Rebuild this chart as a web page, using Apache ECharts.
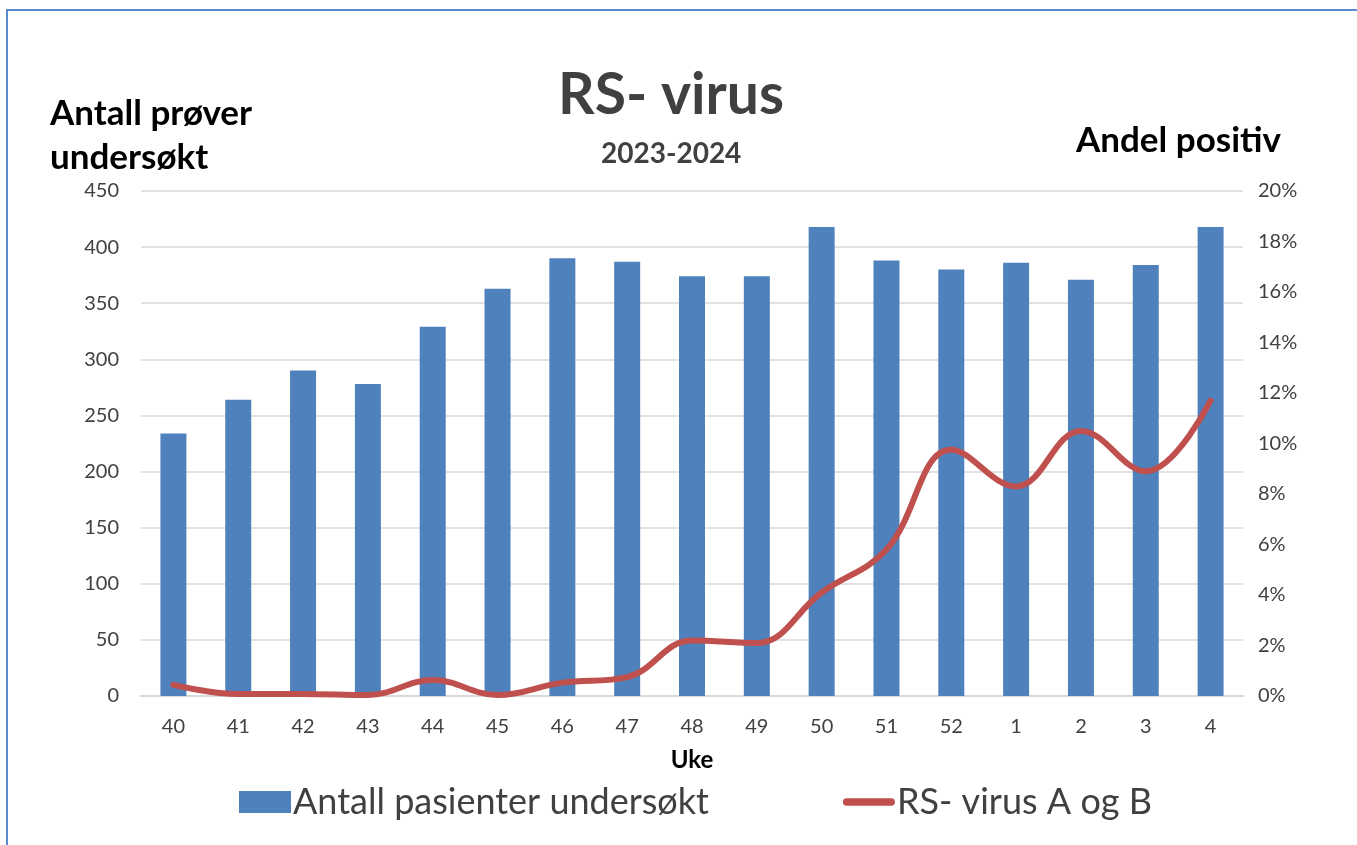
<!DOCTYPE html>
<html>
<head>
<meta charset="utf-8">
<title>RS- virus</title>
<script src="https://cdn.jsdelivr.net/npm/echarts@6/dist/echarts.min.js"></script>
<style>
  html, body { margin: 0; padding: 0; background: #fff; }
  #chart { width: 1357px; height: 845px; }
</style>
</head>
<body>
<div id="chart"></div>
<script>
// uker
var weeks = ["40", "41", "42", "43", "44", "45", "46", "47", "48", "49", "50", "51", "52", "1", "2", "3", "4"];
// antall pasienter undersøkt
var tested = [234, 264, 290, 278, 329, 363, 390, 387, 374, 374, 418, 388, 380, 386, 371, 384, 418];
// andel positive RS-virus A og B (prosent)
var positivePct = [0.44, 0.08, 0.08, 0.04, 0.63, 0.04, 0.53, 0.75, 2.2, 2.1, 4.1, 5.8, 9.75, 8.3, 10.5, 8.9, 11.7];

var font = "Lato, 'Open Sans', sans-serif";
var chart = echarts.init(document.getElementById("chart"));

var option = {
  backgroundColor: "#fff",
  textStyle: { fontFamily: font },
  graphic: [
    {
      type: "rect",
      shape: { x: 7, y: 10, width: 1400, height: 900 },
      style: { fill: "none", stroke: "#5b8bd0", lineWidth: 2 },
      silent: true
    }
  ],
  title: [
    {
      text: "RS- virus",
      left: 553,
      top: 62,
      textStyle: { fontFamily: font, fontSize: 57, fontWeight: "bold", color: "#404040" }
    },
    {
      text: "2023-2024",
      left: 596,
      top: 135,
      textStyle: { fontFamily: font, fontSize: 28, fontWeight: "bold", color: "#404040" }
    },
    {
      text: "Antall prøver\nundersøkt",
      left: 45,
      top: 87,
      textStyle: { fontFamily: font, fontSize: 35, fontWeight: "bold", color: "#000", lineHeight: 44 }
    },
    {
      text: "Andel positiv",
      left: 1071,
      top: 118,
      textStyle: { fontFamily: font, fontSize: 35, fontWeight: "bold", color: "#000" }
    }
  ],
  legend: {
    left: 234,
    top: 779,
    itemWidth: 52,
    itemHeight: 22,
    itemGap: 134,
    textStyle: { fontFamily: font, fontSize: 36, color: "#404040", padding: [0, 0, 0, -3] },
    data: [
      { name: "Antall pasienter undersøkt", icon: "rect" },
      { name: "RS- virus A og B", icon: "path://M4,0 H53 A4,4 0 0 1 53,8 H4 A4,4 0 0 1 4,0 Z" }
    ]
  },
  grid: { left: 141, right: 114, top: 191, bottom: 149 },
  xAxis: {
    type: "category",
    data: weeks,
    name: "Uke",
    nameLocation: "middle",
    nameGap: 52,
    nameTextStyle: { fontFamily: font, fontSize: 24, fontWeight: "bold", color: "#000" },
    axisLine: { lineStyle: { color: "#d9d9d9", width: 2 } },
    axisTick: { show: false },
    axisLabel: { margin: 21, fontSize: 20, color: "#404040", fontFamily: font }
  },
  yAxis: [
    {
      type: "value",
      min: 0,
      max: 450,
      interval: 50,
      axisLine: { show: false },
      axisTick: { show: false },
      splitLine: { lineStyle: { color: "#d9d9d9", width: 1.5 } },
      axisLabel: { margin: 22, fontSize: 20, color: "#404040", fontFamily: font }
    },
    {
      type: "value",
      min: 0,
      max: 20,
      interval: 2,
      axisLine: { show: false },
      axisTick: { show: false },
      splitLine: { show: false },
      axisLabel: { margin: 15, fontSize: 20, color: "#404040", fontFamily: font, formatter: "{value}%" }
    }
  ],
  series: [
    {
      name: "Antall pasienter undersøkt",
      type: "bar",
      data: tested,
      barWidth: 26,
      itemStyle: { color: "#4f81bd" },
      z: 2
    },
    {
      name: "RS- virus A og B",
      type: "line",
      yAxisIndex: 1,
      data: positivePct,
      smooth: 0.4,
      symbol: "none",
      lineStyle: { color: "#c0504d", width: 6, cap: "round" },
      itemStyle: { color: "#c0504d" },
      z: 3
    }
  ]
};

chart.setOption(option);
</script>
</body>
</html>
